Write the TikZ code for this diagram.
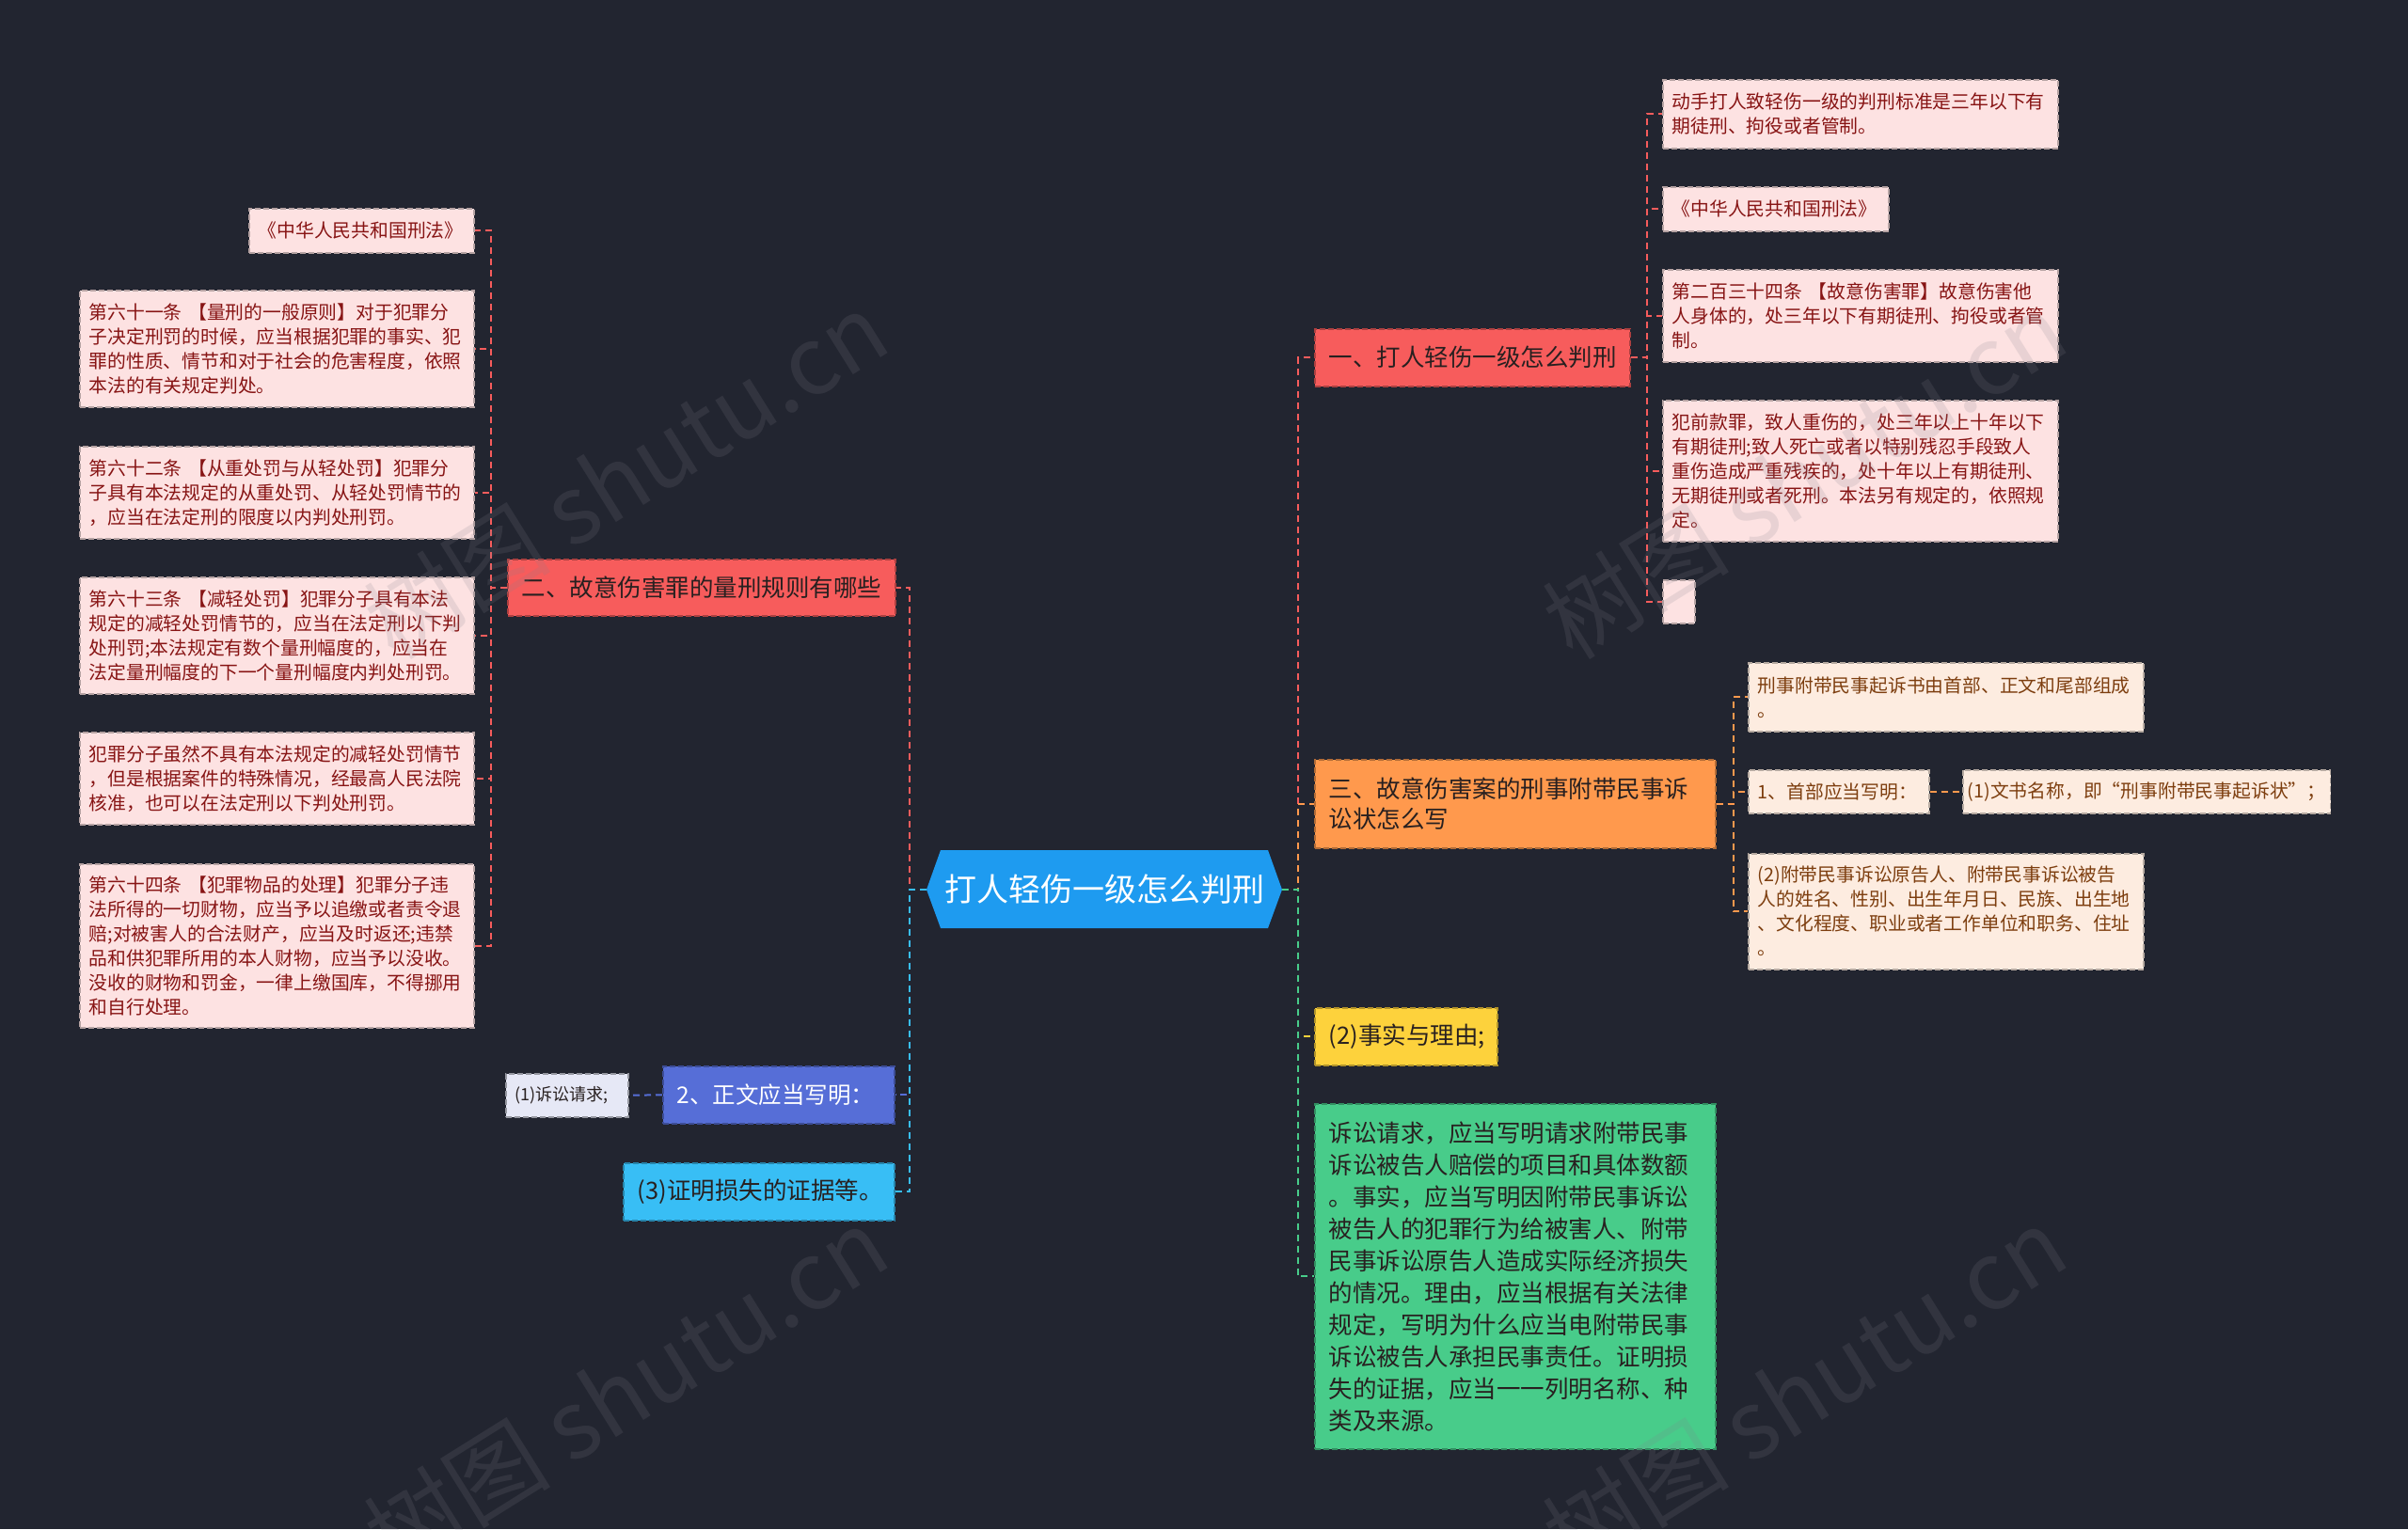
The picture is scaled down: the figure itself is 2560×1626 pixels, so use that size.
\documentclass[tikz,border=0pt]{standalone}
\usepackage{fontspec}
\setmainfont{Noto Sans CJK SC}
\definecolor{bgc}{RGB}{34,37,48}
\definecolor{rootc}{RGB}{30,155,240}
\definecolor{redc}{RGB}{247,92,92}
\definecolor{orgc}{RGB}{255,153,77}
\definecolor{yelc}{RGB}{253,210,60}
\definecolor{grnc}{RGB}{72,204,138}
\definecolor{indc}{RGB}{86,110,215}
\definecolor{lbc}{RGB}{56,190,245}
\definecolor{pinkc}{RGB}{253,226,226}
\definecolor{peachc}{RGB}{253,236,224}
\definecolor{lavc}{RGB}{230,232,246}
\definecolor{pinkt}{RGB}{135,20,20}
\definecolor{peacht}{RGB}{125,62,15}
\definecolor{darkt}{RGB}{40,32,32}
\definecolor{wmc}{RGB}{130,130,140}
\tikzset{
  box/.style={anchor=north west, inner xsep=10pt, inner ysep=0pt, align=left,
    dash pattern=on 6pt off 3pt, line width=1.5pt},
  pinkbox/.style={box, fill=pinkc, draw=pinkc!72!black, text=pinkt,
    font=\fontsize{19.8}{26}\selectfont},
  peachbox/.style={box, fill=peachc, draw=peachc!72!black, text=peacht,
    font=\fontsize{19.8}{26}\selectfont},
  branch/.style={box, inner xsep=15pt, draw=#1!70!black, fill=#1, text=darkt,
    font=\fontsize{25.5}{32}\selectfont},
  conn/.style={draw=#1, dash pattern=on 7pt off 5pt, line width=2pt},
  wm/.style={text=wmc, opacity=0.17, font=\fontsize{100}{110}\selectfont, rotate=32}
}
\begin{document}
\begin{tikzpicture}[x=1pt,y=-1pt]
\fill[bgc] (0,0) rectangle (2560,1626);
\useasboundingbox (0,0) rectangle (2560,1626);

% root hexagon
\fill[rootc] (985,946) -- (1000,904) -- (1348,904) -- (1363,946) -- (1348,987) -- (1000,987) -- cycle;
\node[text=white, inner sep=0pt, minimum width=378pt, minimum height=83pt,
  font=\fontsize{34}{40}\selectfont] (root) at (1174,945.5) {打人轻伤一级怎么判刑};

% left branch
\node[branch=redc, minimum width=412pt, minimum height=60pt, text width=382pt] (b2) at (539,594) {二、故意伤害罪的量刑规则有哪些};
\node[pinkbox, minimum width=239pt, minimum height=47pt, text width=219pt] (l1) at (264,221) {《中华人民共和国刑法》};
\node[pinkbox, minimum width=419pt, minimum height=124pt, text width=399pt] (l2) at (84,308) {第六十一条 【量刑的一般原则】对于犯罪分\\子决定刑罚的时候，应当根据犯罪的事实、犯\\罪的性质、情节和对于社会的危害程度，依照\\本法的有关规定判处。};
\node[pinkbox, minimum width=419pt, minimum height=98pt, text width=399pt] (l3) at (84,474) {第六十二条 【从重处罚与从轻处罚】犯罪分\\子具有本法规定的从重处罚、从轻处罚情节的\\，应当在法定刑的限度以内判处刑罚。};
\node[pinkbox, minimum width=419pt, minimum height=124pt, text width=399pt] (l4) at (84,613) {第六十三条 【减轻处罚】犯罪分子具有本法\\规定的减轻处罚情节的，应当在法定刑以下判\\处刑罚;本法规定有数个量刑幅度的，应当在\\法定量刑幅度的下一个量刑幅度内判处刑罚。};
\node[pinkbox, minimum width=419pt, minimum height=98pt, text width=399pt] (l5) at (84,778) {犯罪分子虽然不具有本法规定的减轻处罚情节\\，但是根据案件的特殊情况，经最高人民法院\\核准，也可以在法定刑以下判处刑罚。};
\node[pinkbox, minimum width=419pt, minimum height=174pt, text width=399pt] (l6) at (84,918) {第六十四条 【犯罪物品的处理】犯罪分子违\\法所得的一切财物，应当予以追缴或者责令退\\赔;对被害人的合法财产，应当及时返还;违禁\\品和供犯罪所用的本人财物，应当予以没收。\\没收的财物和罚金，一律上缴国库，不得挪用\\和自行处理。};

\node[branch=indc, text=white, minimum width=246pt, minimum height=61pt, text width=216pt, font=\fontsize{24.5}{30}\selectfont] (zw) at (704,1133) {2、正文应当写明：};
\node[box, fill=lavc, draw=lavc!65!black, text=darkt, inner xsep=10pt, minimum width=130pt, minimum height=46pt, text width=110pt, font=\fontsize{18}{22}\selectfont] (zc) at (537,1141) {(1)诉讼请求;};
\node[branch=lbc, minimum width=288pt, minimum height=61pt, text width=258pt] (z3) at (662,1236) {(3)证明损失的证据等。};

% right branch 1
\node[branch=redc, minimum width=335pt, minimum height=61pt, text width=305pt] (b1) at (1397,349) {一、打人轻伤一级怎么判刑};
\node[pinkbox, minimum width=420pt, minimum height=73pt, text width=400pt] (r1) at (1767,84) {动手打人致轻伤一级的判刑标准是三年以下有\\期徒刑、拘役或者管制。};
\node[pinkbox, minimum width=240pt, minimum height=47pt, text width=220pt] (r2) at (1767,198) {《中华人民共和国刑法》};
\node[pinkbox, minimum width=420pt, minimum height=98pt, text width=400pt] (r3) at (1767,286) {第二百三十四条 【故意伤害罪】故意伤害他\\人身体的，处三年以下有期徒刑、拘役或者管\\制。};
\node[pinkbox, minimum width=420pt, minimum height=150pt, text width=400pt] (r4) at (1767,425) {犯前款罪，致人重伤的，处三年以上十年以下\\有期徒刑;致人死亡或者以特别残忍手段致人\\重伤造成严重残疾的，处十年以上有期徒刑、\\无期徒刑或者死刑。本法另有规定的，依照规\\定。};
\node[pinkbox, minimum width=34pt, minimum height=46pt, inner xsep=0pt] (r5) at (1767,616) {};

% right branch 3
\node[branch=orgc, minimum width=426pt, minimum height=94pt, text width=396pt] (b3) at (1397,807) {三、故意伤害案的刑事附带民事诉\\讼状怎么写};
\node[peachbox, minimum width=420pt, minimum height=73pt, text width=400pt] (p1) at (1858,704) {刑事附带民事起诉书由首部、正文和尾部组成\\。};
\node[peachbox, minimum width=192pt, minimum height=46pt, text width=172pt] (p2) at (1858,818) {1、首部应当写明：};
\node[peachbox, minimum width=389pt, minimum height=46pt, inner xsep=5pt] (p2c) at (2086,818) {(1)文书名称，即“刑事附带民事起诉状”；};
\node[peachbox, minimum width=420pt, minimum height=123pt, text width=400pt] (p3) at (1858,907) {(2)附带民事诉讼原告人、附带民事诉讼被告\\人的姓名、性别、出生年月日、民族、出生地\\、文化程度、职业或者工作单位和职务、住址\\。};

% right others
\node[branch=yelc, minimum width=194pt, minimum height=61pt, text width=164pt] (y2) at (1397,1071) {(2)事实与理由;};
\node[branch=grnc, minimum width=426pt, minimum height=367pt, text width=396pt, font=\fontsize{25.5}{34}\selectfont] (gr) at (1397,1173) {诉讼请求，应当写明请求附带民事\\诉讼被告人赔偿的项目和具体数额\\。事实，应当写明因附带民事诉讼\\被告人的犯罪行为给被害人、附带\\民事诉讼原告人造成实际经济损失\\的情况。理由，应当根据有关法律\\规定，写明为什么应当电附带民事\\诉讼被告人承担民事责任。证明损\\失的证据，应当一一列明名称、种\\类及来源。};

% connectors from root
\draw[conn=redc] (root.west) -- ++(-18,0) |- (b2.east);
\draw[conn=indc] (root.west) -- ++(-18,0) |- (zw.east);
\draw[conn=lbc] (root.west) -- ++(-18,0) |- (z3.east);
\draw[conn=redc] (root.east) -- ++(17,0) |- (b1.west);
\draw[conn=orgc] (root.east) -- ++(17,0) |- (b3.west);
\draw[conn=yelc] (root.east) -- ++(17,0) |- (y2.west);
\draw[conn=grnc] (root.east) -- ++(17,0) |- (gr.west);

% connectors of branch 2
\foreach \c in {l1,l2,l3,l4,l5,l6}
  \draw[conn=redc] (b2.west) -- ++(-17,0) |- (\c.east);
\draw[conn=indc] (zw.west) -- (zc.east);

% connectors of branch 1
\foreach \c in {r1,r2,r3,r4,r5}
  \draw[conn=redc] (b1.east) -- ++(17,0) |- (\c.west);

% connectors of branch 3
\foreach \c in {p1,p2,p3}
  \draw[conn=orgc] (b3.east) -- ++(18,0) |- (\c.west);
\draw[conn=orgc] (p2.east) -- (p2c.west);

% watermarks
\begin{scope}
\clip (0,0) rectangle (2560,1626);
\node[wm] (wm1) at (665,505) {树图 shutu.cn};
\node[wm] (wm2) at (1918,505) {树图 shutu.cn};
\node[wm] (wm3) at (665,1478) {树图 shutu.cn};
\node[wm] (wm4) at (1918,1478) {树图 shutu.cn};
\end{scope}
\end{tikzpicture}
\end{document}
